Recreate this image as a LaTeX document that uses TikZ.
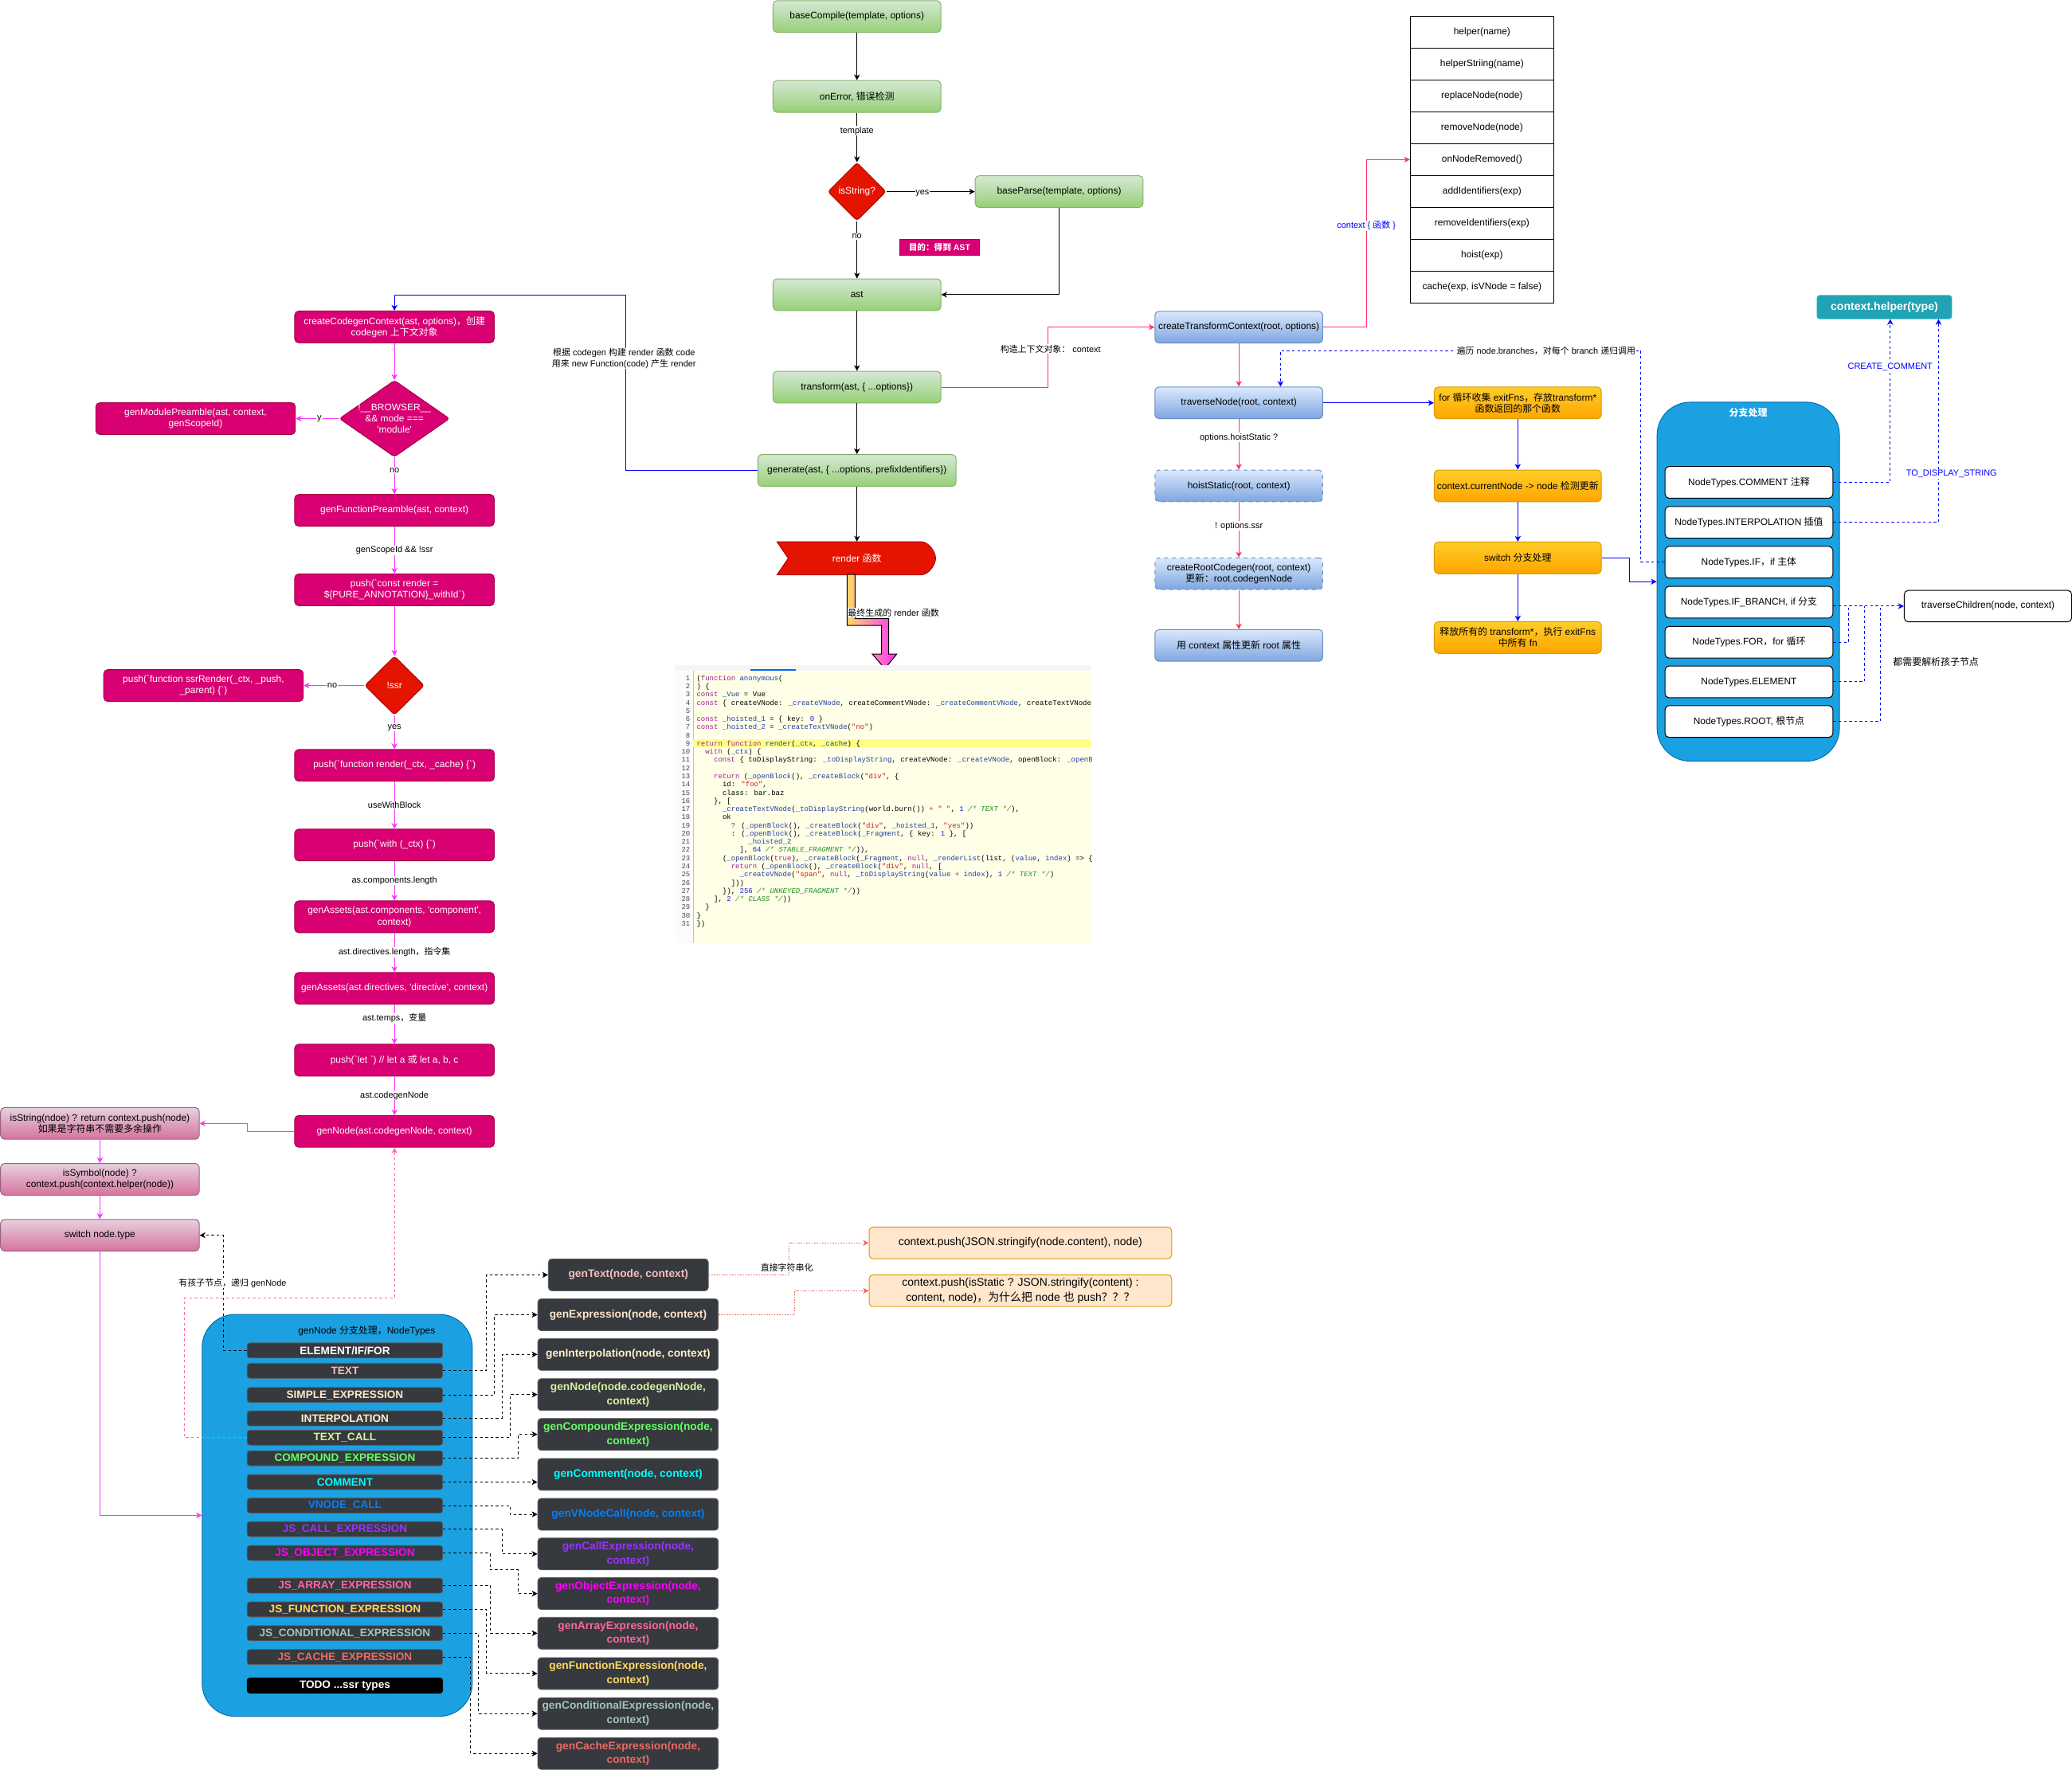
\documentclass[tikz,border=0pt]{standalone}
\usepackage{fontspec}
\setmainfont{Liberation Sans}
\newfontfamily\latf{Liberation Sans}
\newfontfamily\cjkf{Noto Sans CJK SC}
\newfontfamily\monof{Liberation Mono}
\usetikzlibrary{arrows.meta,shapes.geometric,shadings}

\newXeTeXintercharclass\cjkcls
\newcount\cjki
\def\setcjkrange#1#2{\cjki=#1\relax\loop\XeTeXcharclass\cjki=\cjkcls\relax\advance\cjki by 1\relax\ifnum\cjki<#2\relax\repeat}
\setcjkrange{"3000}{"3040}
\setcjkrange{"4E00}{"A000}
\setcjkrange{"FF00}{"FFF0}
\XeTeXinterchartoks 0 \cjkcls = {\cjkf}
\XeTeXinterchartoks 4095 \cjkcls = {\cjkf}
\XeTeXinterchartoks \cjkcls 0 = {\latf}
\XeTeXinterchartoks \cjkcls 4095 = {\latf}
\XeTeXinterchartokenstate=1

\newcommand\fs[2]{\latf\fontsize{#1pt}{#2pt}\selectfont}
\newcommand\cdf{\monof\fontsize{5.43pt}{6.19pt}\selectfont}

\definecolor{grnT}{HTML}{D5E8D4}\definecolor{grnB}{HTML}{97D077}\definecolor{grnS}{HTML}{82B366}
\definecolor{bluT}{HTML}{DAE8FC}\definecolor{bluB}{HTML}{7EA6E0}\definecolor{bluS}{HTML}{6C8EBF}
\definecolor{orgT}{HTML}{FFCD28}\definecolor{orgB}{HTML}{FFA500}\definecolor{orgS}{HTML}{D79B00}
\definecolor{pnkT}{HTML}{E6D0DE}\definecolor{pnkB}{HTML}{D5739D}\definecolor{pnkS}{HTML}{996185}
\definecolor{magF}{HTML}{D80073}\definecolor{magS}{HTML}{A50040}
\definecolor{redF}{HTML}{E51400}\definecolor{redS}{HTML}{B20000}
\definecolor{contF}{HTML}{1BA1E2}\definecolor{contS}{HTML}{006EAF}
\definecolor{tealF}{HTML}{20A3B5}\definecolor{tealS}{HTML}{3CB8C8}
\definecolor{darkF}{HTML}{36393D}\definecolor{darkS}{HTML}{5A5D62}
\definecolor{noteF}{HTML}{FFE6CC}\definecolor{noteS}{HTML}{D79B00}
\definecolor{lnMag}{HTML}{FF33FF}\definecolor{lnCrim}{HTML}{FF3366}
\definecolor{lnBlue}{HTML}{0000FF}\definecolor{lnPink}{HTML}{FF66B3}
\definecolor{lnRed}{HTML}{EA6B66}
\definecolor{arrY}{HTML}{FFD966}\definecolor{arrM}{HTML}{FF33FF}
\definecolor{tTXT}{HTML}{F5BEBE}\definecolor{tSIM}{HTML}{FFE6CC}\definecolor{tINT}{HTML}{FFF2CC}
\definecolor{tTC}{HTML}{D5F2A0}\definecolor{tCMP}{HTML}{66FF66}\definecolor{tCOM}{HTML}{00FFFF}
\definecolor{tVN}{HTML}{007FFF}\definecolor{tJC}{HTML}{9933FF}\definecolor{tJO}{HTML}{FF00FF}
\definecolor{tJA}{HTML}{FF66A3}\definecolor{tJF}{HTML}{FFD966}\definecolor{tJD}{HTML}{A0C4BE}
\definecolor{tJK}{HTML}{EA6B66}
\definecolor{cKw}{HTML}{A020A0}\definecolor{cId}{HTML}{2040A0}\definecolor{cSt}{HTML}{C02020}
\definecolor{cNm}{HTML}{2020D0}\definecolor{cCm}{HTML}{209020}
\definecolor{codeBg}{HTML}{FFFFE8}\definecolor{codeHl}{HTML}{FFFF88}

\newcommand\kw[1]{\textcolor{cKw}{#1}}
\newcommand\idn[1]{\textcolor{cId}{#1}}
\newcommand\cst[1]{\textcolor{cSt}{#1}}
\newcommand\cnm[1]{\textcolor{cNm}{#1}}
\newcommand\cmt[1]{\textcolor{cCm}{\itshape #1}}

\tikzset{
  >={Stealth[length=4.3pt,width=4.4pt,inset=1.2pt]},
  box/.style={rounded corners=3pt, minimum width=127pt, minimum height=24pt, inner sep=1pt, align=center, font=\fs{7.2}{8.5}, line width=0.6pt},
  gbox/.style={box, draw=grnS, top color=grnT, bottom color=grnB},
  bbox/.style={box, draw=bluS, top color=bluT, bottom color=bluB},
  obox/.style={box, draw=orgS, top color=orgT, bottom color=orgB, minimum width=126.4pt},
  pbox/.style={box, draw=pnkS, top color=pnkT, bottom color=pnkB, minimum width=150.3pt},
  mbox/.style={box, draw=magS, fill=magF, text=white, minimum width=151pt},
  wbox/.style={box, draw=black, fill=white},
  hbox/.style={draw=black, fill=white, minimum width=108.5pt, minimum height=24.1pt, inner sep=0pt, font=\fs{7.2}{8.5}, line width=0.6pt},
  dia/.style={diamond, inner sep=0pt, align=center, font=\fs{7.2}{8.5}, text=white, line width=0.6pt, rounded corners=2pt},
  rdia/.style={dia, draw=redS, fill=redF},
  mdia/.style={dia, draw=magS, fill=magF},
  cont/.style={draw=contS, fill=contF, rounded corners=25pt, line width=0.6pt, inner sep=0pt},
  bar/.style={draw=darkS, fill=darkF, rounded corners=2pt, minimum width=148pt, minimum height=11.4pt, inner sep=0pt, font=\fs{8.2}{9}\bfseries, line width=0.5pt},
  genb/.style={draw=darkS, fill=darkF, rounded corners=2.5pt, minimum width=136.6pt, minimum height=24.1pt, inner sep=0.5pt, align=center, font=\fs{8.3}{10.6}\bfseries, line width=0.5pt},
  note/.style={draw=noteS, fill=noteF, rounded corners=3pt, minimum width=229pt, minimum height=24pt, inner sep=1pt, align=center, font=\fs{8.4}{11}, line width=0.6pt},
  lbl/.style={fill=white, inner sep=0.5pt, align=center, font=\fs{6.6}{8}},
  txt/.style={inner sep=0.5pt, align=center, font=\fs{7.2}{8.5}},
  conn/.style={line width=0.6pt},
  blk/.style={conn, draw=black},
  crim/.style={conn, draw=lnCrim},
  blu/.style={conn, draw=lnBlue},
  blud/.style={conn, draw=lnBlue, dash pattern=on 2pt off 2pt},
  mag/.style={conn, draw=lnMag},
  dsh/.style={conn, draw=black, dash pattern=on 2pt off 2pt},
  pdsh/.style={conn, draw=lnPink, dash pattern=on 2pt off 2pt},
  rdot/.style={conn, draw=lnRed, dash pattern=on 1pt off 1pt},
  cl/.style={anchor=base west, inner sep=0pt, font=\cdf},
  cn/.style={anchor=base east, inner sep=0pt, font=\cdf, text=black!70},
}

\begin{document}
\begin{tikzpicture}[x=1pt,y=-1pt]
\useasboundingbox (0,0) rectangle (1568,1339);

% ================= top centre (green) =================
\node[gbox] (bc) at (648.5,12.5) {baseCompile(template, options)};
\node[gbox] (oe) at (648.5,73) {onError, 错误检测};
\node[rdia, minimum width=44pt, minimum height=44pt] (isstr) at (648.5,145) {isString?};
\node[gbox] (bp) at (801.5,145) {baseParse(template, options)};
\node[draw=magS, fill=magF, text=white, minimum width=60.7pt, minimum height=12.5pt, inner sep=0pt, font=\fs{6.4}{7.5}\bfseries] (goal) at (711,187) {目的：得到 AST};
\node[gbox] (ast) at (648.5,223) {ast};
\node[gbox] (tr) at (648.5,293) {transform(ast, \{ ...options\})};
\node[gbox, minimum width=150pt] (gen) at (648.5,356) {generate(ast, \{ ...options, prefixIdentifiers\})};

% render shape
\path[draw=redS, fill=redF, line width=0.6pt] (588,410) -- (697,410) .. controls (703,410) and (708,418) .. (708,422.5) .. controls (708,427) and (703,435) .. (697,435) -- (588,435) -- (596.5,422.5) -- cycle;
\node[minimum width=120pt, minimum height=25pt, inner sep=0pt, text=white, font=\fs{7.2}{8.5}] (rd) at (648.5,422.5) {render 函数};

% big arrow
\path[draw=black, line width=0.6pt, left color=arrY, right color=arrM] (641,434.7) -- (641,473.3) -- (667.1,473.3) -- (667.1,495) -- (660.1,495) -- (669.6,506) -- (678.6,495) -- (672.6,495) -- (672.6,468.2) -- (647,468.2) -- (647,434.7) -- cycle;
\node[lbl, anchor=west] (rdl) at (641,463.8) {最终生成的 render 函数};

% code block
\fill[white!92!gray] (511,503.4) rectangle (826,507.7);
\fill[blue!60!cyan] (568,506.6) rectangle (602,507.6);
\fill[white!97!gray] (511,507.7) rectangle (524.5,714);
\fill[codeBg] (524.5,507.7) rectangle (826,714);
\draw[black!25, line width=0.4pt] (524.5,507.7) -- (524.5,714);
\fill[codeHl] (524.5,559.4) rectangle (826,565.6);
\foreach \i in {1,...,31} { \node[cn] (n\i) at (522.5,{515+(\i-1)*6.19}) {\i}; }
\begin{scope}
\clip (524.5,507.7) rectangle (826,714);
\node[cl] (k1) at (527,515.0) {(\kw{function} \idn{anonymous}(};
\node[cl] (k2) at (527,521.19) {) \{};
\node[cl] (k3) at (527,527.38) {\kw{const} \idn{\_Vue} = Vue};
\node[cl] (k4) at (527,533.57) {\kw{const} \{ createVNode: \idn{\_createVNode}, createCommentVNode: \idn{\_createCommentVNode}, createTextVNode: \idn{\_createTextVNode} \}};
\node[cl] (k6) at (527,545.95) {\kw{const} \idn{\_hoisted\_1} = \{ key: \cnm{0} \}};
\node[cl] (k7) at (527,552.14) {\kw{const} \idn{\_hoisted\_2} = \idn{\_createTextVNode}(\cst{"no"})};
\node[cl] (k9) at (527,564.52) {\kw{return} \kw{function} \idn{render}(\idn{\_ctx}, \idn{\_cache}) \{};
\node[cl] (k10) at (533.5,570.71) {\kw{with} (\idn{\_ctx}) \{};
\node[cl] (k11) at (540,576.9) {\kw{const} \{ toDisplayString: \idn{\_toDisplayString}, createVNode: \idn{\_createVNode}, openBlock: \idn{\_openBlock} \}};
\node[cl] (k13) at (540,589.28) {\kw{return} (\idn{\_openBlock}(), \idn{\_createBlock}(\cst{"div"}, \{};
\node[cl] (k14) at (546.6,595.47) {id: \cst{"foo"},};
\node[cl] (k15) at (546.6,601.66) {class: bar.baz};
\node[cl] (k16) at (540,607.85) {\}, [};
\node[cl] (k17) at (546.6,614.04) {\idn{\_createTextVNode}(\idn{\_toDisplayString}(world.burn()) \cst{+} \cst{" "}, \cnm{1} \cmt{/* TEXT */}),};
\node[cl] (k18) at (546.6,620.23) {ok};
\node[cl] (k19) at (553.1,626.42) {\cst{?} (\idn{\_openBlock}(), \idn{\_createBlock}(\cst{"div"}, \idn{\_hoisted\_1}, \cst{"yes"}))};
\node[cl] (k20) at (553.1,632.61) {: (\idn{\_openBlock}(), \idn{\_createBlock}(\idn{\_Fragment}, \{ key: \cnm{1} \}, [};
\node[cl] (k21) at (566.1,638.8) {\idn{\_hoisted\_2}};
\node[cl] (k22) at (559.6,644.99) {], \cnm{64} \cmt{/* STABLE\_FRAGMENT */})),};
\node[cl] (k23) at (546.6,651.18) {(\idn{\_openBlock}(\kw{true}), \idn{\_createBlock}(\idn{\_Fragment}, \kw{null}, \idn{\_renderList}(list, (\idn{value}, \idn{index}) => \{};
\node[cl] (k24) at (553.1,657.37) {\kw{return} (\idn{\_openBlock}(), \idn{\_createBlock}(\cst{"div"}, \kw{null}, [};
\node[cl] (k25) at (559.6,663.56) {\idn{\_createVNode}(\cst{"span"}, \kw{null}, \idn{\_toDisplayString}(\idn{value} \cst{+} \idn{index}), \cnm{1} \cmt{/* TEXT */})};
\node[cl] (k26) at (553.1,669.75) {]))};
\node[cl] (k27) at (546.6,675.94) {\}), \cnm{256} \cmt{/* UNKEYED\_FRAGMENT */}))};
\node[cl] (k28) at (540,682.13) {], \cnm{2} \cmt{/* CLASS */}))};
\node[cl] (k29) at (533.5,688.32) {\}};
\node[cl] (k30) at (527,694.51) {\}};
\node[cl] (k31) at (527,700.7) {\})};
\end{scope}

% ================= left column (magenta) =================
\node[mbox] (ccc) at (298.5,247.4) {createCodegenContext(ast, options)，创建\\codegen 上下文对象};
\node[mdia, minimum width=83.4pt, minimum height=58pt] (brw) at (298.5,316.8) {};
\node[txt, text=white] (brwt) at (298.5,316.8) {!\_\_BROWSER\_\_\\\&\& mode ===\\'module'};
\node[mbox] (gmp) at (148,316.8) {genModulePreamble(ast, context,\\genScopeId)};
\node[mbox] (gfp) at (298.5,386.2) {genFunctionPreamble(ast, context)};
\node[mbox] (pcr) at (298.5,446.4) {push(`const render =\\\$\{PURE\_ANNOTATION\}\_withId`)};
\node[rdia, minimum width=45pt, minimum height=44.5pt] (nssr) at (298.5,518.8) {!ssr};
\node[mbox] (pssr) at (154,518.8) {push(`function ssrRender(\_ctx, \_push,\\\_parent) \{`)};
\node[mbox] (pfr) at (298.5,579.2) {push(`function render(\_ctx, \_cache) \{`)};
\node[mbox] (pw) at (298.5,639.5) {push(`with (\_ctx) \{`)};
\node[mbox] (gac) at (298.5,693.8) {genAssets(ast.components, 'component',\\context)};
\node[mbox] (gad) at (298.5,748) {genAssets(ast.directives, 'directive', context)};
\node[mbox] (pl) at (298.5,802.3) {push(`let `) // let a 或 let a, b, c};
\node[mbox] (gn) at (298.5,856.2) {genNode(ast.codegenNode, context)};

% pink
\node[pbox] (isS) at (75.6,850.2) {isString(ndoe) ? return context.push(node)\\如果是字符串不需要多余操作};
\node[pbox] (isY) at (75.6,892.5) {isSymbol(node) ?\\context.push(context.helper(node))};
\node[pbox] (snt) at (75.6,934.8) {switch node.type};

% genNode container
\node[cont, minimum width=204.4pt, minimum height=304.2pt] (gc) at (255.2,1146.8) {};
\node[txt] (gct) at (277.5,1007) {genNode 分支处理，NodeTypes};
\node[bar, text=white] (bELE) at (261,1022) {ELEMENT/IF/FOR};
\node[bar, text=tTXT] (bTXT) at (261,1037.4) {TEXT};
\node[bar, text=tSIM] (bSIM) at (261,1055.7) {SIMPLE\_EXPRESSION};
\node[bar, text=tINT] (bINT) at (261,1073.4) {INTERPOLATION};
\node[bar, text=tTC] (bTC) at (261,1088) {TEXT\_CALL};
\node[bar, text=tCMP] (bCMP) at (261,1103.6) {COMPOUND\_EXPRESSION};
\node[bar, text=tCOM] (bCOM) at (261,1121.6) {COMMENT};
\node[bar, text=tVN] (bVN) at (261,1139.4) {VNODE\_CALL};
\node[bar, text=tJC] (bJC) at (261,1157.2) {JS\_CALL\_EXPRESSION};
\node[bar, text=tJO] (bJO) at (261,1175.3) {JS\_OBJECT\_EXPRESSION};
\node[bar, text=tJA] (bJA) at (261,1200) {JS\_ARRAY\_EXPRESSION};
\node[bar, text=tJF] (bJF) at (261,1218) {JS\_FUNCTION\_EXPRESSION};
\node[bar, text=tJD] (bJD) at (261,1236) {JS\_CONDITIONAL\_EXPRESSION};
\node[bar, text=tJK] (bJK) at (261,1254) {JS\_CACHE\_EXPRESSION};
\node[bar, fill=black, draw=black, text=white] (bTODO) at (261,1275.6) {TODO ...ssr types};

% gen boxes
\node[genb, minimum width=121pt, text=tTXT] (gTxt) at (475.5,964.8) {genText(node, context)};
\node[genb, text=tSIM] (gExp) at (475.3,995) {genExpression(node, context)};
\node[genb, text=tINT] (gInt) at (475.3,1025) {genInterpolation(node, context)};
\node[genb, text=tTC] (gNod) at (475.3,1055.4) {genNode(node.codegenNode,\\context)};
\node[genb, text=tCMP] (gCmp) at (475.3,1085.5) {genCompoundExpression(node,\\context)};
\node[genb, text=tCOM] (gCom) at (475.3,1115.8) {genComment(node, context)};
\node[genb, text=tVN] (gVN) at (475.3,1146) {genVNodeCall(node, context)};
\node[genb, text=tJC] (gJC) at (475.3,1176) {genCallExpression(node,\\context)};
\node[genb, text=tJO] (gJO) at (475.3,1206) {genObjectExpression(node,\\context)};
\node[genb, text=tJA] (gJA) at (475.3,1236) {genArrayExpression(node,\\context)};
\node[genb, text=tJF] (gJF) at (475.3,1266.5) {genFunctionExpression(node,\\context)};
\node[genb, text=tJD] (gJD) at (475.3,1296.8) {genConditionalExpression(node,\\context)};
\node[genb, text=tJK] (gJK) at (475.3,1327) {genCacheExpression(node,\\context)};

% notes
\node[note] (c1) at (772.2,940.6) {context.push(JSON.stringify(node.content), node)};
\node[note] (c2) at (772.2,976.8) {context.push(isStatic ? JSON.stringify(content) :\\content, node)，为什么把 node 也 push？？？};

% ================= right side =================
\node[bbox] (ctc) at (937.5,247.6) {createTransformContext(root, options)};
\node[bbox] (tn) at (937.5,304.9) {traverseNode(root, context)};
\node[bbox, dashed] (hs) at (937.5,367.7) {hoistStatic(root, context)};
\node[bbox, dashed] (crc) at (937.5,434.2) {createRootCodegen(root, context)\\更新：root.codegenNode};
\node[bbox] (up) at (937.5,488.5) {用 context 属性更新 root 属性};

\node[obox] (fr) at (1148.6,304.9) {for 循环收集 exitFns，存放transform*\\函数返回的那个函数};
\node[obox] (cn) at (1148.6,367.7) {context.currentNode -> node 检测更新};
\node[obox] (sw) at (1148.6,422.2) {switch 分支处理};
\node[obox] (rl) at (1148.6,482.5) {释放所有的 transform*，执行 exitFns\\中所有 fn};

% helper list
\node[hbox] (hl1) at (1121.5,24.35) {helper(name)};
\node[hbox] (hl2) at (1121.5,48.45) {helperStriing(name)};
\node[hbox] (hl3) at (1121.5,72.55) {replaceNode(node)};
\node[hbox] (hl4) at (1121.5,96.65) {removeNode(node)};
\node[hbox] (hl5) at (1121.5,120.75) {onNodeRemoved()};
\node[hbox] (hl6) at (1121.5,144.85) {addIdentifiers(exp)};
\node[hbox] (hl7) at (1121.5,168.95) {removeIdentifiers(exp)};
\node[hbox] (hl8) at (1121.5,193.05) {hoist(exp)};
\node[hbox] (hl9) at (1121.5,217.15) {cache(exp, isVNode = false)};

% right container
\node[cont, minimum width=138pt, minimum height=271.6pt] (rc) at (1323,440.2) {};
\node[txt, text=white, font=\fs{7.2}{8.5}\bfseries] (rct) at (1323,312.5) {分支处理};
\node[wbox] (nCOM) at (1323.5,365) {NodeTypes.COMMENT 注释};
\node[wbox] (nINT) at (1323.5,395.3) {NodeTypes.INTERPOLATION 插值};
\node[wbox] (nIF) at (1323.5,425.5) {NodeTypes.IF，if 主体};
\node[wbox] (nIFB) at (1323.5,455.7) {NodeTypes.IF\_BRANCH, if 分支};
\node[wbox] (nFOR) at (1323.5,486) {NodeTypes.FOR，for 循环};
\node[wbox] (nELE) at (1323.5,516) {NodeTypes.ELEMENT};
\node[wbox] (nROOT) at (1323.5,546) {NodeTypes.ROOT, 根节点};

\node[draw=tealS, fill=tealF, rounded corners=2pt, minimum width=102pt, minimum height=17.8pt, inner sep=0pt, text=white, font=\fs{8.5}{10}\bfseries] (cht) at (1426,232.4) {context.helper(type)};
\node[wbox, minimum width=126.7pt, minimum height=23.8pt] (tc) at (1504.4,458.7) {traverseChildren(node, context)};
\node[txt] (tcl) at (1465,501) {都需要解析孩子节点};

% ================= connectors =================
% top
\draw[blk,->] (bc) -- (oe);
\draw[blk,->] (oe) -- (isstr);
\draw[blk,->] (isstr) -- (bp);
\draw[blk,->] (isstr) -- (ast);
\draw[blk,->] (bp.south) |- (ast.east);
\draw[blk,->] (ast) -- (tr);
\draw[blk,->] (tr) -- (gen);
\draw[blk,->] (gen) -- (rd);
\node[lbl] (l1) at (648.5,99) {template};
\node[lbl] (l2) at (698,146.5) {yes};
\node[lbl] (l3) at (648.5,179) {no};

% transform -> context
\draw[crim,->] (tr.east) -- (793,293) |- (ctc.west);
\node[lbl] (l4) at (795,264) {构造上下文对象：\ context};
\draw[crim,->] (ctc.east) -- (1034.2,247.6) |- (hl5.west);
\node[lbl, text=lnBlue] (l5) at (1034,170.8) {context \{ 函数 \}};
\draw[crim,->] (ctc) -- (tn);
\draw[crim,->] (tn) -- (hs);
\draw[crim,->] (hs) -- (crc);
\draw[crim,->] (crc) -- (up);
\node[lbl] (l6) at (937.5,331.2) {options.hoistStatic ?};
\node[lbl] (l7) at (937.5,398) {! options.ssr};

\draw[blu,->] (tn) -- (fr);
\draw[blu,->] (fr) -- (cn);
\draw[blu,->] (cn) -- (sw);
\draw[blu,->] (sw) -- (rl);
\draw[blu,->] (sw.east) -- (1233,422.2) |- (rc.west);

\coordinate (kb) at (969,265.4);
\draw[blud,->] (nIF.west) -- (1241.8,425.5) -- (1241.8,265.4) -- (kb) -- (kb |- tn.north);
\node[lbl] (l8) at (1170,265.4) {遍历 node.branches，对每个 branch 递归调用};

\coordinate (kc) at (1430.4,300);
\coordinate (ki) at (1467,300);
\draw[blud,->] (nCOM.east) -| (kc |- cht.south);
\draw[blud,->] (nINT.east) -| (ki |- cht.south);
\node[lbl, text=lnBlue] (l9) at (1430.4,277.8) {CREATE\_COMMENT};
\node[lbl, text=lnBlue] (l10) at (1476.8,358.8) {TO\_DISPLAY\_STRING};

\draw[blud,->] (nIFB.east |- tc.west) -- (tc.west);
\draw[blud] (nFOR.east) -| (1399,458.7);
\draw[blud] (nELE.east) -| (1411,458.7);
\draw[blud] (nROOT.east) -| (1423,458.7);

% generate -> codegen
\draw[blu,->] (gen.west) -- (473.5,356) -- (473.5,223.5) -| (ccc.north);
\node[lbl, font=\fs{6.6}{8}] (l11) at (472.2,271.3) {根据 codegen 构建 render 函数 code\\用来 new Function(code) 产生 render};

% left column
\draw[mag,->] (ccc) -- (brw);
\draw[mag,->] (brw) -- (gmp);
\draw[mag,->] (brw) -- (gfp);
\draw[mag,->] (gfp) -- (pcr);
\draw[mag,->] (pcr) -- (nssr);
\draw[mag,->] (nssr) -- (pssr);
\draw[mag,->] (nssr) -- (pfr);
\draw[mag,->] (pfr) -- (pw);
\draw[mag,->] (pw) -- (gac);
\draw[mag,->] (gac) -- (gad);
\draw[mag,->] (gad) -- (pl);
\draw[mag,->] (pl) -- (gn);
\node[lbl] (l12) at (241.7,316.8) {y};
\node[lbl] (l13) at (298.5,356) {no};
\node[lbl] (l14) at (298.5,416.4) {genScopeId \&\& !ssr};
\node[lbl] (l15) at (251.4,518.8) {no};
\node[lbl] (l16) at (298.5,550.6) {yes};
\node[lbl] (l17) at (298.5,609.1) {useWithBlock};
\node[lbl] (l18) at (298.5,666.4) {as.components.length};
\node[lbl] (l19) at (298.5,720.6) {ast.directives.length，指令集};
\node[lbl] (l20) at (298.5,770.7) {ast.temps，变量};
\node[lbl] (l21) at (298.5,829.2) {ast.codegenNode};

\draw[mag,->] (gn.west) -- (186.9,856.2) |- (isS.east);
\draw[mag,->] (isS) -- (isY);
\draw[mag,->] (isY) -- (snt);
\draw[mag,->] (snt.south) |- (gc.west);

\draw[dsh,->] (bELE.west) -- (168.8,1022) |- (snt.east);
\node[lbl] (l22) at (176,971) {有孩子节点，递归 genNode};
\draw[pdsh,->] (bTC.west) -- (139.7,1088) -- (139.7,982.6) -| (gn.south);

% bars -> gen boxes
\draw[dsh,->] (bTXT.east) -- ++(33,0) |- (gTxt.west);
\draw[dsh,->] (bSIM.east) -- ++(39,0) |- (gExp.west);
\draw[dsh,->] (bINT.east) -- ++(44.7,0) |- (gInt.west);
\draw[dsh,->] (bTC.east) -- ++(50.8,0) |- (gNod.west);
\draw[dsh,->] (bCMP.east) -- ++(57,0) |- (gCmp.west);
\draw[dsh,->] (bCOM.east) -- (bCOM.east -| gCom.west);
\draw[dsh,->] (bVN.east) -- ++(50.8,0) |- (gVN.west);
\draw[dsh,->] (bJC.east) -- ++(44.7,0) |- (gJC.west);
\draw[dsh,->] (bJO.east) -- ++(35.5,0) -- ++(0,12.7) -- ++(21.5,0) |- (gJO.west);
\draw[dsh,->] (bJA.east) -- ++(36,0) |- (gJA.west);
\draw[dsh,->] (bJF.east) -- ++(33,0) |- (gJF.west);
\draw[dsh,->] (bJD.east) -- ++(27,0) |- (gJD.west);
\draw[dsh,->] (bJK.east) -- ++(21,0) |- (gJK.west);

% gen boxes -> notes
\draw[rdot,->] (gTxt.east) -- ++(60.8,0) |- (c1.west);
\draw[rdot,->] (gExp.east) -- ++(57.2,0) |- (c2.west);
\node[lbl] (l23) at (595.4,959) {直接字符串化};
\end{tikzpicture}
\end{document}
